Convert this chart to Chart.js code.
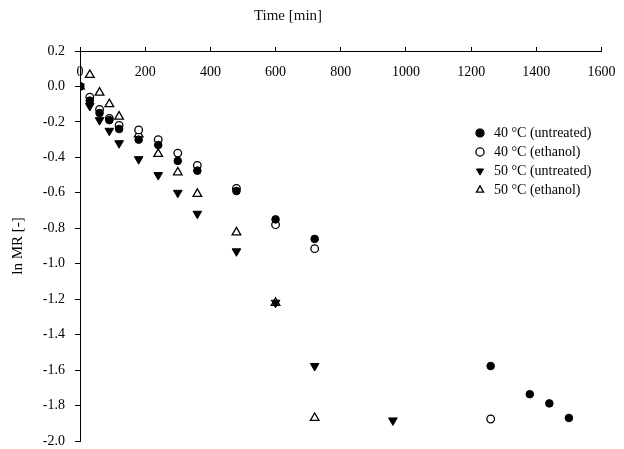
<!DOCTYPE html>
<html>
<head>
<meta charset="utf-8">
<script src="https://cdn.jsdelivr.net/npm/chart.js@4.4.1/dist/chart.umd.min.js"></script>
<style>
html,body{margin:0;padding:0;background:#fff;}
#wrap{width:624px;height:449px;}
</style>
</head>
<body>
<div id="wrap"><canvas id="c" width="624" height="449"></canvas></div>
<script>
// ---- data ----
const xTitle = 'Time [min]';
const yTitle = 'ln MR [-]';
const seriesNames = ['40 °C (untreated)', '40 °C (ethanol)', '50 °C (untreated)', '50 °C (ethanol)'];

const xMin = 0, xMax = 1600, xStep = 200;
const yMin = -2.0, yMax = 0.2, yStep = 0.2;

const t40U = [0, 30, 60, 90, 120, 180, 240, 300, 360, 480, 600, 720, 1260, 1380, 1440, 1500];
const v40U = [0, -0.08, -0.15, -0.19, -0.24, -0.30, -0.33, -0.42, -0.475, -0.59, -0.75, -0.86, -1.577, -1.736, -1.788, -1.87];

const t40E = [0, 30, 60, 90, 120, 180, 240, 300, 360, 480, 600, 720, 1260];
const v40E = [0, -0.06, -0.13, -0.18, -0.22, -0.245, -0.30, -0.376, -0.445, -0.575, -0.78, -0.915, -1.876];

const t50U = [0, 30, 60, 90, 120, 180, 240, 300, 360, 480, 600, 720, 960];
const v50U = [0, -0.11, -0.19, -0.25, -0.32, -0.41, -0.50, -0.60, -0.718, -0.93, -1.22, -1.577, -1.884];

const t50E = [0, 30, 60, 90, 120, 180, 240, 300, 360, 480, 600, 720];
const v50E = [0, 0.065, -0.035, -0.10, -0.17, -0.27, -0.38, -0.485, -0.606, -0.823, -1.22, -1.87];

// ---- helpers ----
const SERIF = '"Liberation Serif", "Times New Roman", serif';
const pts = (ts, vs) => ts.map((t, i) => ({x: t, y: vs[i]}));

const placePlugin = {
  id: 'placeBoxes',
  afterLayout(chart) {
    const lg = chart.legend;
    if (lg) {
      const w = lg.width, h = lg.height;
      lg.left = 468; lg.top = 121; lg.right = lg.left + w; lg.bottom = lg.top + h;
    }
    const tb = chart.titleBlock;
    if (tb) {
      const w = 140;
      tb.left = 288 - w / 2; tb.right = 288 + w / 2; tb.width = w;
    }
  }
};

new Chart(document.getElementById('c'), {
  type: 'scatter',
  data: {
    datasets: [
      {label: seriesNames[0], data: pts(t40U, v40U), pointStyle: 'circle', pointRadius: 3.8,
       backgroundColor: '#000', borderColor: '#000', borderWidth: 1},
      {label: seriesNames[1], data: pts(t40E, v40E), pointStyle: 'circle', pointRadius: 3.8,
       backgroundColor: '#fff', borderColor: '#000', borderWidth: 1.3},
      {label: seriesNames[2], data: pts(t50U, v50U), pointStyle: 'triangle', rotation: 180, pointRadius: 5,
       backgroundColor: '#000', borderColor: '#000', borderWidth: 1},
      {label: seriesNames[3], data: pts(t50E, v50E), pointStyle: 'triangle', pointRadius: 5,
       backgroundColor: '#fff', borderColor: '#000', borderWidth: 1.3}
    ]
  },
  options: {
    responsive: false,
    animation: false,
    layout: {padding: {left: 0, right: 22.5, top: 0, bottom: 8}},
    scales: {
      x: {
        type: 'linear', axis: 'x', position: {y: yMax}, min: xMin, max: xMax,
        ticks: {stepSize: xStep, padding: 17.6, color: '#000', font: {family: SERIF, size: 14},
          callback: v => String(v)},
        grid: {display: true, drawOnChartArea: false, drawTicks: true, tickLength: -5, color: '#000', tickColor: '#000'},
        border: {display: true, color: '#000', width: 1},
        afterFit(s) { s.paddingLeft = 0; s.paddingRight = 0; s.paddingTop = 0; s.paddingBottom = 0; }
      },
      y: {
        type: 'linear', position: 'left', min: yMin, max: yMax,
        ticks: {stepSize: yStep, padding: 10, color: '#000', font: {family: SERIF, size: 14},
          callback: v => (Math.abs(v) < 1e-9 ? '0.0' : Number(v).toFixed(1))},
        grid: {display: true, drawOnChartArea: false, drawTicks: true, tickLength: 5, color: '#000', tickColor: '#000'},
        border: {display: true, color: '#000', width: 1},
        title: {display: true, text: yTitle, color: '#000', font: {family: SERIF, size: 15}, padding: {top: 9, bottom: 0}},
        afterFit(s) { s.width = 80; s.paddingTop = 0; s.paddingBottom = 0; }
      }
    },
    plugins: {
      title: {display: true, text: xTitle, color: '#111', font: {family: SERIF, size: 15, weight: 'normal'},
        padding: {top: 7, bottom: 26}},
      legend: {
        position: 'chartArea', align: 'start',
        labels: {usePointStyle: true, boxWidth: 14, boxHeight: 5.8, padding: 5, color: '#000',
          font: {family: SERIF, size: 14}}
      },
      tooltip: {enabled: false}
    }
  },
  plugins: [placePlugin]
});
</script>
</body>
</html>
